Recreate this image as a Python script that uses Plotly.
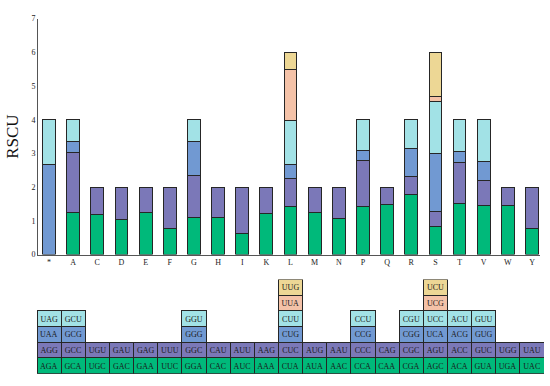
import plotly.graph_objects as go

categories = ["*", "A", "C", "D", "E", "F", "G", "H", "I", "K", "L",
              "M", "N", "P", "Q", "R", "S", "T", "V", "W", "Y"]

# RSCU values per stack level (bottom -> top)
rscu_green  = [None, 1.25, 1.19, 1.03, 1.25, 0.77, 1.11, 1.11, 0.63, 1.21, 1.43,
               1.25, 1.06, 1.43, 1.49, 1.77, 0.83, 1.51, 1.45, 1.45, 0.76]
rscu_purple = [None, 1.79, 0.81, 0.97, 0.75, 1.23, 1.25, 0.89, 1.37, 0.79, 0.82,
               0.75, 0.94, 1.36, 0.51, 0.54, 0.46, 1.22, 0.76, 0.55, 1.24]
rscu_blue   = [2.67, 0.32, None, None, None, None, 1.00, None, None, None, 0.43,
               None, None, 0.30, None, 0.85, 1.70, 0.34, 0.55, None, None]
rscu_cyan   = [1.33, 0.64, None, None, None, None, 0.64, None, None, None, 1.29,
               None, None, 0.91, None, 0.84, 1.56, 0.93, 1.24, None, None]
rscu_salmon = [None, None, None, None, None, None, None, None, None, None, 1.53,
               None, None, None, None, None, 0.14, None, None, None, None]
rscu_yellow = [None, None, None, None, None, None, None, None, None, None, 0.50,
               None, None, None, None, None, 1.31, None, None, None, None]

# Codon table rows (bottom -> top), "" = empty cell
codon_green  = ["AGA", "GCA", "UGC", "GAC", "GAA", "UUC", "GGA", "CAC", "AUC", "AAA", "CUA",
                "AUA", "AAC", "CCA", "CAA", "CGA", "AGC", "ACA", "GUA", "UGA", "UAC"]
codon_purple = ["AGG", "GCC", "UGU", "GAU", "GAG", "UUU", "GGC", "CAU", "AUU", "AAG", "CUC",
                "AUG", "AAU", "CCC", "CAG", "CGC", "AGU", "ACC", "GUC", "UGG", "UAU"]
codon_blue   = ["UAA", "GCG", "", "", "", "", "GGG", "", "", "", "CUG",
                "", "", "CCG", "", "CGG", "UCA", "ACG", "GUG", "", ""]
codon_cyan   = ["UAG", "GCU", "", "", "", "", "GGU", "", "", "", "CUU",
                "", "", "CCU", "", "CGU", "UCC", "ACU", "GUU", "", ""]
codon_salmon = ["", "", "", "", "", "", "", "", "", "", "UUA",
                "", "", "", "", "", "UCG", "", "", "", ""]
codon_yellow = ["", "", "", "", "", "", "", "", "", "", "UUG",
                "", "", "", "", "", "UCU", "", "", "", ""]

colors = ["#00B97A", "#7B78B8", "#7199D2", "#A2E2E6", "#F4C2A8", "#EDD795"]
series = [rscu_green, rscu_purple, rscu_blue, rscu_cyan, rscu_salmon, rscu_yellow]
codons = [codon_green, codon_purple, codon_blue, codon_cyan, codon_salmon, codon_yellow]

FONT = "Liberation Serif, Times New Roman, serif"
W, H = 550, 386

fig = go.Figure()
idx = list(range(len(categories)))

for vals, col in zip(series, colors):
    fig.add_trace(go.Bar(
        x=idx, y=vals, width=0.53, marker=dict(color=col, line=dict(color="#262626", width=1)),
        xaxis="x", yaxis="y", showlegend=False, hoverinfo="skip"))

for row, col in zip(codons, colors):
    fig.add_trace(go.Bar(
        x=idx, y=[1 if c else None for c in row], width=1,
        text=row, textposition="inside", insidetextanchor="middle", textangle=0,
        textfont=dict(family=FONT, size=8.5, color="#1a1a1a"),
        marker=dict(color=col, line=dict(color="#262626", width=1)),
        xaxis="x2", yaxis="y2", showlegend=False, hoverinfo="skip"))

fig.update_layout(
    width=W, height=H, margin=dict(l=0, r=0, t=0, b=0),
    paper_bgcolor="white", plot_bgcolor="white", barmode="stack",
    hovermode=False,
    font=dict(family=FONT, color="#222"),
    uniformtext=dict(minsize=8, mode="show"),
    xaxis=dict(domain=[38 / W, 540 / W], range=[-0.455, 20.33], tickmode="array",
               tickvals=idx, ticktext=categories, showline=True, linecolor="#555",
               linewidth=1, ticks="", showgrid=False, zeroline=False, fixedrange=True,
               tickfont=dict(size=8, family=FONT, color="#222"), anchor="y"),
    yaxis=dict(domain=[1 - 256.5 / H, 1 - 15 / H], range=[0, 7], tickvals=list(range(8)),
               showline=True, linecolor="#555", linewidth=1, ticks="", showgrid=False,
               zeroline=False, fixedrange=True, tickfont=dict(size=8, family=FONT, color="#222"),
               title=dict(text="RSCU", font=dict(size=17, family=FONT, color="#111"),
                          standoff=8), anchor="x"),
    xaxis2=dict(domain=[37 / W, 544 / W], range=[-0.5, 20.5], visible=False,
                fixedrange=True, anchor="y2"),
    yaxis2=dict(domain=[1 - 378.5 / H, 1 - 282 / H], range=[0, 6], visible=False,
                fixedrange=True, anchor="x2"),
)

fig.write_html("out.html", config={"displayModeBar": False, "staticPlot": True},
               post_script="document.body.style.margin='0';document.body.style.overflow='hidden';")
